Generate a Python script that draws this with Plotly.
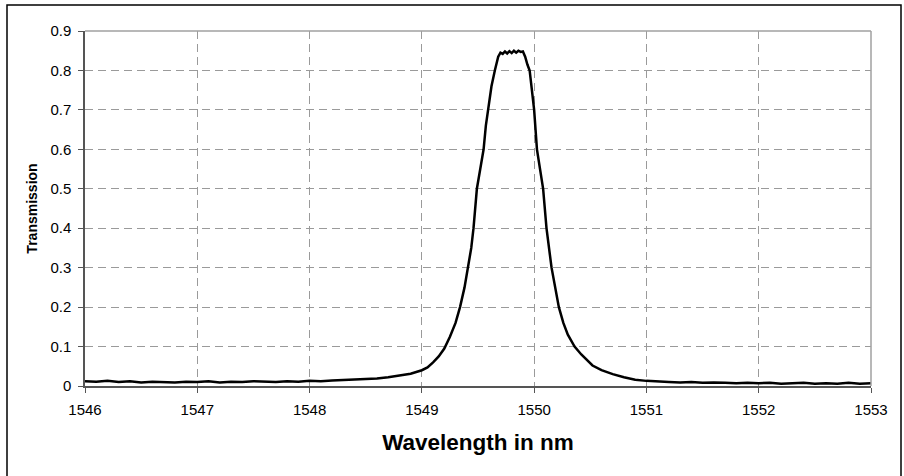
import plotly.graph_objects as go

wavelength = [
    1546.0, 1546.1, 1546.2, 1546.3, 1546.4, 1546.5, 1546.6, 1546.7, 1546.8, 1546.9,
    1547.0, 1547.1, 1547.2, 1547.3, 1547.4, 1547.5, 1547.6, 1547.7, 1547.8, 1547.9,
    1548.0, 1548.1, 1548.2, 1548.3, 1548.4, 1548.5, 1548.6, 1548.7, 1548.8, 1548.9,
    1549.0, 1549.05, 1549.1, 1549.15, 1549.2, 1549.25, 1549.3, 1549.34, 1549.38, 1549.41,
    1549.44, 1549.46, 1549.49, 1549.52, 1549.55, 1549.57, 1549.59, 1549.62, 1549.65, 1549.68,
    1549.70, 1549.72, 1549.74, 1549.76, 1549.78, 1549.80, 1549.82, 1549.84, 1549.86, 1549.88,
    1549.90, 1549.92, 1549.94, 1549.96, 1549.98, 1550.0, 1550.025, 1550.05, 1550.08, 1550.11,
    1550.155, 1550.22, 1550.26, 1550.30, 1550.36, 1550.42, 1550.48, 1550.52, 1550.6, 1550.7,
    1550.8, 1550.9, 1551.0, 1551.1, 1551.2, 1551.3, 1551.4, 1551.5, 1551.6, 1551.7,
    1551.8, 1551.9, 1552.0, 1552.1, 1552.2, 1552.3, 1552.4, 1552.5, 1552.6, 1552.7,
    1552.8, 1552.9, 1553.0,
]
transmission = [
    0.012, 0.011, 0.013, 0.010, 0.012, 0.009, 0.011, 0.010, 0.009, 0.011,
    0.010, 0.012, 0.009, 0.011, 0.010, 0.012, 0.011, 0.010, 0.012, 0.011,
    0.013, 0.012, 0.014, 0.015, 0.016, 0.018, 0.019, 0.022, 0.026, 0.031,
    0.040, 0.047, 0.060, 0.075, 0.095, 0.125, 0.160, 0.200, 0.250, 0.300,
    0.350, 0.400, 0.500, 0.550, 0.600, 0.660, 0.700, 0.760, 0.800, 0.835,
    0.845, 0.842, 0.848, 0.843, 0.849, 0.844, 0.850, 0.845, 0.850, 0.847,
    0.848, 0.835, 0.815, 0.800, 0.750, 0.700, 0.600, 0.550, 0.500, 0.400,
    0.300, 0.200, 0.160, 0.130, 0.100, 0.080, 0.062, 0.052, 0.040, 0.030,
    0.022, 0.016, 0.013, 0.011, 0.010, 0.009, 0.010, 0.008, 0.009, 0.008,
    0.007, 0.008, 0.007, 0.008, 0.006, 0.007, 0.008, 0.006, 0.007, 0.006,
    0.008, 0.006, 0.007,
]
x_ticks = [1546, 1547, 1548, 1549, 1550, 1551, 1552, 1553]
y_ticks = [0, 0.1, 0.2, 0.3, 0.4, 0.5, 0.6, 0.7, 0.8, 0.9]
y_tick_labels = ["0", "0.1", "0.2", "0.3", "0.4", "0.5", "0.6", "0.7", "0.8", "0.9"]

L, R, T, B = 85, 33, 31, 90
W, H = 904, 476
pw, ph = W - L - R, H - T - B

fig = go.Figure()
fig.add_trace(go.Scatter(
    x=wavelength, y=transmission, mode="lines",
    line=dict(color="black", width=2.5), hoverinfo="skip", showlegend=False,
))

font = "Liberation Sans, Arial, sans-serif"
fig.update_layout(
    width=W, height=H,
    margin=dict(l=L, r=R, t=T, b=B),
    paper_bgcolor="white", plot_bgcolor="white",
    font=dict(family=font, size=15, color="black"),
    xaxis=dict(
        range=[1546, 1553], tickvals=x_ticks, ticktext=[str(v) for v in x_ticks],
        showgrid=True, gridcolor="#9a9a9a", griddash="8px,5px", gridwidth=1,
        showline=True, linecolor="#555555", linewidth=1.5, mirror=False,
        ticks="outside", ticklen=5, tickcolor="#555555", zeroline=False,
        tickfont=dict(size=15), ticklabelstandoff=4,
        title=dict(text="<b>Wavelength in nm</b>", font=dict(size=22.5), standoff=17),
    ),
    yaxis=dict(
        range=[0, 0.9], tickvals=y_ticks, ticktext=y_tick_labels,
        showgrid=True, gridcolor="#9a9a9a", griddash="8px,5px", gridwidth=1,
        showline=True, linecolor="#555555", linewidth=1.5,
        ticks="outside", ticklen=5, tickcolor="#555555", zeroline=False,
        tickfont=dict(size=15), ticklabelstandoff=4,
        title=dict(text="<b>Transmission</b>", font=dict(size=14), standoff=9),
    ),
    shapes=[
        # gray top/right frame of the plot area
        dict(type="line", xref="paper", yref="paper", x0=0, x1=1, y0=1, y1=1,
             line=dict(color="#a0a0a0", width=1.5)),
        dict(type="line", xref="paper", yref="paper", x0=1, x1=1, y0=0, y1=1,
             line=dict(color="#a0a0a0", width=1.5)),
        # outer chart border
        dict(type="rect", xref="paper", yref="paper",
             x0=(7 - L) / pw, x1=(901 - L) / pw,
             y0=(H - B - 480) / ph, y1=(H - B - 5) / ph,
             line=dict(color="black", width=1.5), layer="above"),
    ],
)

fig.write_html("out.html")
